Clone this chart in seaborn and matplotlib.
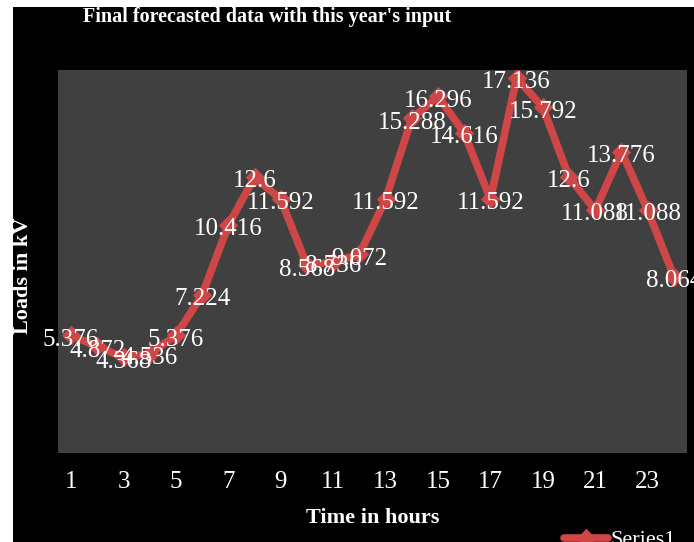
import matplotlib
matplotlib.use("Agg")
import matplotlib.pyplot as plt
import seaborn as sns
import pandas as pd
from matplotlib.patches import Rectangle

hours = list(range(1, 25))
loads = [5.376, 4.872, 4.368, 4.536, 5.376, 7.224, 10.416, 12.6, 11.592, 8.568,
         8.736, 9.072, 11.592, 15.288, 16.296, 14.616, 11.592, 17.136, 15.792, 12.6,
         11.088, 13.776, 11.088, 8.064]
tick_hours = list(range(1, 24, 2))
series_name = "Series1"
title = "Final forecasted data with this year's input"
xlabel = "Time in hours"
ylabel = "Loads in kV"

df = pd.DataFrame({"hour": hours, "load": loads})

sns.set_theme(style="dark")
serif = ["Liberation Serif", "DejaVu Serif"]

W, H = 694, 542
fig = plt.figure(figsize=(W / 100, H / 100), dpi=100, facecolor="black")
fig.patches.append(Rectangle((0, 0), 13 / W, 1, transform=fig.transFigure,
                             facecolor="white", edgecolor="none", zorder=-10))
fig.patches.append(Rectangle((0, 1 - 7 / H), 1, 7 / H, transform=fig.transFigure,
                             facecolor="white", edgecolor="none", zorder=-10))

ax = fig.add_axes([58 / W, 89 / H, 629 / W, 383 / H])
ax.set_facecolor("#404040")
line_color = "#cf4646"
sns.lineplot(data=df, x="hour", y="load", ax=ax, color=line_color, linewidth=5.5,
             marker="D", markersize=9, markeredgecolor=line_color, label=series_name,
             legend=False)

for h, v in zip(hours, loads):
    ax.annotate(f"{v:g}", (h, v), xytext=(0, -3), textcoords="offset points",
                ha="center", va="center", color="white", fontsize=18,
                family=serif, annotation_clip=False, zorder=5)

ax.set_xlim(0.5, 24.5)
ax.set_ylim(0, 17.5)
ax.set_xticks(tick_hours)
ax.set_xticklabels([str(t) for t in tick_hours], color="white", fontsize=18, family=serif)
ax.set_yticks([])
ax.tick_params(axis="x", length=0, pad=13)
ax.set_xlabel("")
ax.set_ylabel("")
ax.grid(False)
for s in ax.spines.values():
    s.set_visible(False)

fig.text(267 / W, 1 - 17 / H, title, ha="center", va="center", color="white",
         fontsize=14.5, fontweight="bold", family=serif)
fig.text(373 / W, 1 - 518 / H, xlabel, ha="center", va="center", color="white",
         fontsize=16, fontweight="bold", family=serif)
fig.text(23 / W, 1 - 276 / H, ylabel, ha="center", va="center", color="white",
         fontsize=16, fontweight="bold", family=serif, rotation=90)

handles, labels = ax.get_legend_handles_labels()
leg = fig.legend(handles, labels, loc="center left", bbox_to_anchor=(555 / W, 1 - 540 / H),
                 frameon=False, prop={"family": serif, "size": 16}, handlelength=2.0,
                 handletextpad=0.1, borderaxespad=0)
for t in leg.get_texts():
    t.set_color("white")

fig.savefig("out.png", dpi=100, facecolor=fig.get_facecolor())
